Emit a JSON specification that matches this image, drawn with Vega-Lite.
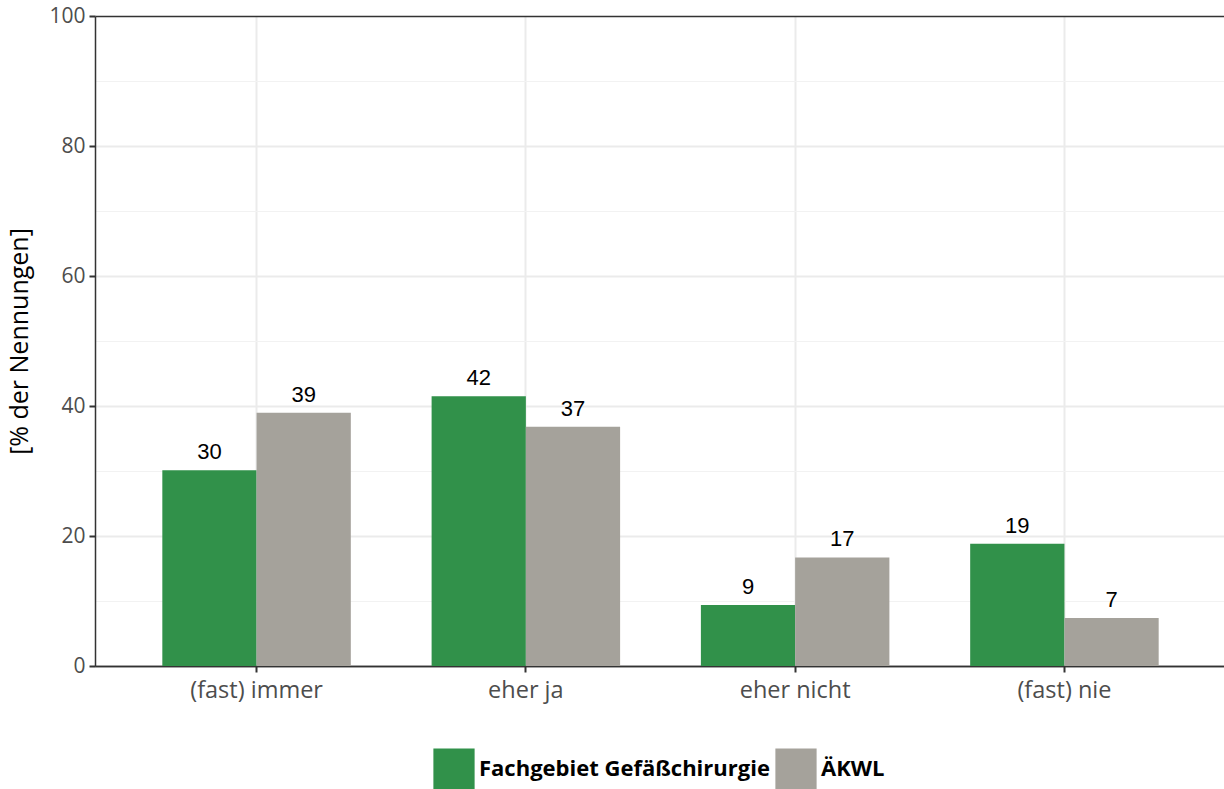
{
  "$schema": "https://vega.github.io/schema/vega-lite/v6.json",
  "width": 1131,
  "height": 650,
  "autosize": {"type": "none"},
  "padding": {"left": 95, "top": 16, "right": 0, "bottom": 123},
  "background": "white",
  "config": {
    "view": {"stroke": null},
    "font": "Open Sans"
  },
  "data": {
    "values": [
      {"kategorie": "(fast) immer", "gruppe": "Fachgebiet Gefäßchirurgie", "wert": 30.1},
      {"kategorie": "(fast) immer", "gruppe": "ÄKWL", "wert": 38.95},
      {"kategorie": "eher ja", "gruppe": "Fachgebiet Gefäßchirurgie", "wert": 41.5},
      {"kategorie": "eher ja", "gruppe": "ÄKWL", "wert": 36.8},
      {"kategorie": "eher nicht", "gruppe": "Fachgebiet Gefäßchirurgie", "wert": 9.4},
      {"kategorie": "eher nicht", "gruppe": "ÄKWL", "wert": 16.7},
      {"kategorie": "(fast) nie", "gruppe": "Fachgebiet Gefäßchirurgie", "wert": 18.8},
      {"kategorie": "(fast) nie", "gruppe": "ÄKWL", "wert": 7.4}
    ]
  },
  "encoding": {
    "x": {
      "field": "kategorie",
      "type": "nominal",
      "sort": ["(fast) immer", "eher ja", "eher nicht", "(fast) nie"],
      "scale": {"paddingInner": 0.3, "paddingOuter": 0.25},
      "axis": {
        "title": null,
        "labelAngle": 0,
        "labelFontSize": 23.5,
        "labelColor": "#4D4D4D",
        "labelFont": "Open Sans",
        "labelPadding": 6,
        "tickColor": "#333333",
        "tickSize": 6,
        "tickWidth": 2,
        "domainColor": "#333333",
        "domainWidth": 1.5,
        "grid": true,
        "gridColor": "#EBEBEB",
        "gridWidth": 2,
        "bandPosition": 0.5
      }
    },
    "xOffset": {
      "field": "gruppe",
      "type": "nominal",
      "sort": ["Fachgebiet Gefäßchirurgie", "ÄKWL"],
      "scale": {"paddingInner": 0, "paddingOuter": 0}
    }
  },
  "layer": [
    {
      "mark": {"type": "bar"},
      "encoding": {
        "y": {
          "field": "wert",
          "type": "quantitative",
          "scale": {"domain": [0, 100], "nice": false},
          "axis": {
            "orient": "left",
            "title": "[% der Nennungen]",
            "titleFontSize": 25,
            "titleFontWeight": "normal",
            "titleColor": "#000000",
            "titleFont": "Open Sans",
            "titlePadding": 16,
            "values": [0, 20, 40, 60, 80, 100],
            "labelFontSize": 21,
            "labelColor": "#4D4D4D",
            "labelFont": "Open Sans",
            "labelPadding": 4,
            "tickColor": "#333333",
            "tickSize": 6,
            "tickWidth": 2,
            "domainColor": "#333333",
            "domainWidth": 1.5,
            "grid": true,
            "gridColor": {"condition": {"test": "datum.value === 100 || datum.value === 0", "value": "#333333"}, "value": "#EBEBEB"},
            "gridWidth": {"condition": {"test": "datum.value === 100 || datum.value === 0", "value": 1.5}, "value": 2}
          }
        },
        "color": {
          "field": "gruppe",
          "type": "nominal",
          "sort": ["Fachgebiet Gefäßchirurgie", "ÄKWL"],
          "scale": {"domain": ["Fachgebiet Gefäßchirurgie", "ÄKWL"], "range": ["#31914A", "#A5A29B"]},
          "legend": {
            "title": null,
            "orient": "none",
            "direction": "horizontal",
            "legendX": 338,
            "legendY": 732,
            "symbolType": "square",
            "symbolSize": 1700,
            "symbolStrokeWidth": 0,
            "symbolOpacity": 1,
            "labelFontSize": 22,
            "labelFontWeight": "bold",
            "labelColor": "#000000",
            "labelFont": "Open Sans",
            "labelOffset": 4,
            "columnPadding": 5,
            "labelLimit": 400
          }
        }
      }
    },
    {
      "mark": {"type": "text", "baseline": "bottom", "dy": -6, "fontSize": 22, "font": "Liberation Sans", "color": "#000000"},
      "encoding": {
        "y": {"field": "wert", "type": "quantitative"},
        "text": {"field": "wert", "type": "quantitative", "format": ".0f"}
      }
    },
    {
      "mark": {"type": "rule", "opacity": 0},
      "encoding": {
        "y": {
          "field": "wert",
          "type": "quantitative",
          "axis": {
            "values": [10, 30, 50, 70, 90],
            "orient": "left",
            "labels": false,
            "ticks": false,
            "domain": false,
            "title": null,
            "grid": true,
            "gridColor": "#F2F2F2",
            "gridWidth": 1.2
          }
        }
      }
    }
  ],
  "resolve": {"axis": {"y": "independent"}}
}
